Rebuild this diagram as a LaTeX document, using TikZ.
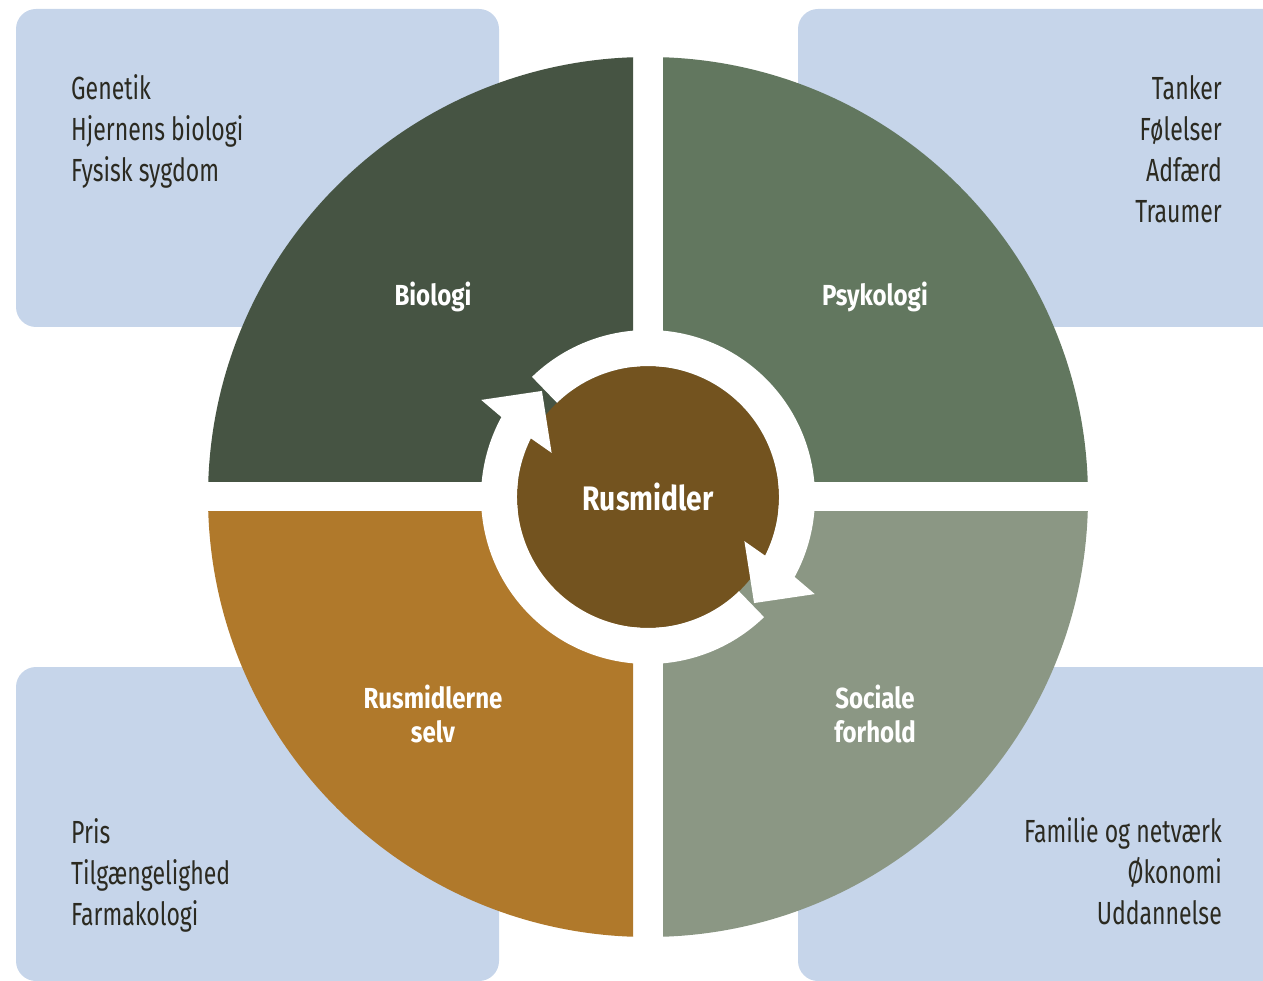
\documentclass[tikz,border=0pt]{standalone}
\usepackage{fontspec}
\setmainfont{Fira Sans}[FakeStretch=0.72]
\newfontfamily\labelfont{Fira Sans}[FakeStretch=0.83]
\usetikzlibrary{calc}
\definecolor{boxblue}{HTML}{C6D5EA}
\definecolor{biogreen}{HTML}{465443}
\definecolor{psygreen}{HTML}{62775F}
\definecolor{socgreen}{HTML}{8B9784}
\definecolor{rusochre}{HTML}{B0792B}
\definecolor{rusbrown}{HTML}{73531F}
\definecolor{listtext}{HTML}{2B2A21}
\begin{document}
\begin{tikzpicture}[x=1pt,y=-1pt,
  infobox/.style={fill=boxblue,rounded corners=20pt},
  listitem/.style={text=listtext,inner sep=0pt,font=\fontsize{32}{41}\selectfont},
  quadlabel/.style={text=white,inner sep=0pt,align=center,font=\labelfont\bfseries\fontsize{29}{34}\selectfont},
  cyclearrow/.style={fill=white}]

\useasboundingbox (0,0) rectangle (1263,981);

% info boxes in the corners:
\fill[infobox] (16,9) rectangle (499,327);
\fill[infobox] (798,9) rectangle (1290,327);
\fill[infobox] (16,667) rectangle (499,981);
\fill[infobox] (798,667) rectangle (1290,981);

% quadrants of the big circle:
\coordinate (C) at (648,497);
\begin{scope}
\clip (200,50) rectangle (633,481);
\fill[biogreen] (C) circle[radius=440];
\end{scope}
\begin{scope}
\clip (663,50) rectangle (1100,481);
\fill[psygreen] (C) circle[radius=440];
\end{scope}
\begin{scope}
\clip (200,511) rectangle (633,945);
\fill[rusochre] (C) circle[radius=440];
\end{scope}
\begin{scope}
\clip (663,511) rectangle (1100,945);
\fill[socgreen] (C) circle[radius=440];
\end{scope}

% centre and the two arrows round it:
\node[circle,fill=rusbrown,minimum size=262pt,inner sep=0pt,text=white,
  font=\labelfont\bfseries\fontsize{34}{40}\selectfont] (rusmidler) at (C) {Rusmidler};
\foreach \u in {-134,46}
  \fill[cyclearrow] ($(C)+(\u:167)$) arc[start angle=\u, end angle=\u+162.6, radius=167]
    -- ($(C)+(\u+164.2:193)$) -- ($(C)+(\u+179:150)$) -- ($(C)+(\u+158.6:106)$)
    -- ($(C)+(\u+160.6:131)$) arc[start angle=\u+160.6, end angle=\u, radius=131] -- cycle;

% quadrant labels:
\path (433,306) node[quadlabel,anchor=base] (biologi) {Biologi};
\path (875,306) node[quadlabel,anchor=base] (psykologi) {Psykologi};
\path (433,714) node[quadlabel] (selv) {Rusmidlerne\\selv};
\path (875,714) node[quadlabel] (sociale) {Sociale\\forhold};

% lists in the boxes:
\foreach \t [count=\i] in {Genetik,Hjernens biologi,Fysisk sygdom}
  \path (71,59+41*\i) node[listitem,anchor=base west] (bio\i) {\t};
\foreach \t [count=\i] in {Tanker,Følelser,Adfærd,Traumer}
  \path (1222,59+41*\i) node[listitem,anchor=base east] (psy\i) {\t};
\foreach \t [count=\i] in {Pris,Tilgængelighed,Farmakologi}
  \path (71,802+41*\i) node[listitem,anchor=base west] (rus\i) {\t};
\foreach \t [count=\i] in {Familie og netværk,Økonomi,Uddannelse}
  \path (1222,801+41*\i) node[listitem,anchor=base east] (soc\i) {\t};

\end{tikzpicture}
\end{document}
